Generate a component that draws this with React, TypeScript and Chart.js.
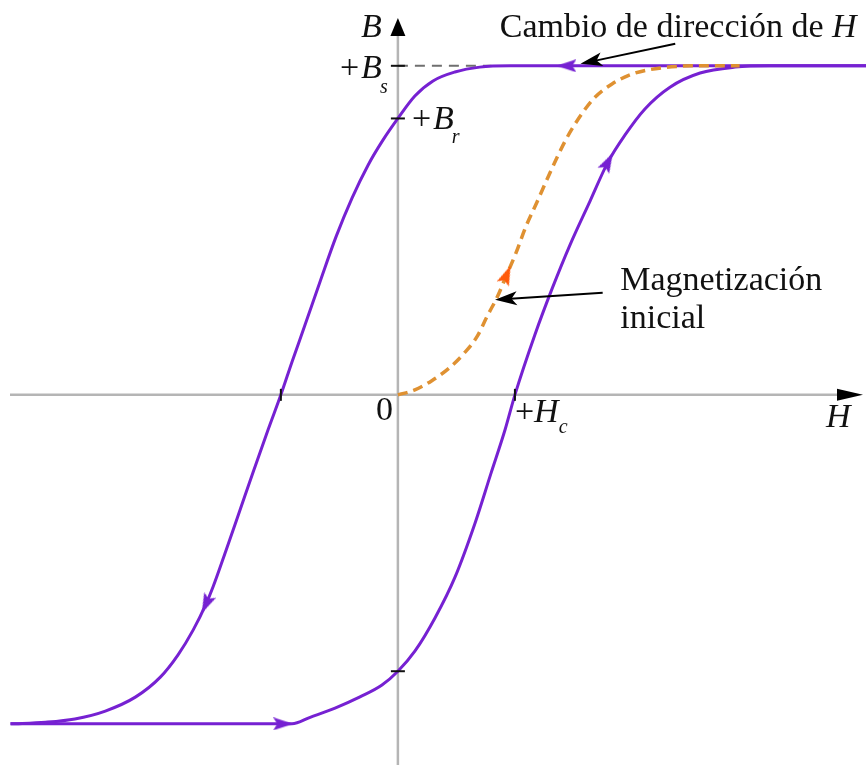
import { useEffect, useRef } from "react";
import { Chart, registerables } from "chart.js";

Chart.register(...registerables);

// Ascending branch (H increasing): lower saturation -> upper saturation
const H_ASC = [-3.31, -0.98, -0.905, -0.75, -0.537, -0.324, -0.136, 0.0, 0.145, 0.317, 0.488, 0.659, 0.796, 0.915, 1.0, 1.17, 1.317, 1.471, 1.642, 1.796, 1.941, 2.111, 2.325, 2.582, 2.881, 3.18, 4.0];
const B_ASC = [-1.0, -1.0, -1.0, -0.98, -0.952, -0.918, -0.882, -0.84, -0.779, -0.678, -0.554, -0.39, -0.238, -0.107, 0.0, 0.182, 0.322, 0.456, 0.589, 0.708, 0.79, 0.869, 0.935, 0.978, 0.996, 1.0, 1.0];
const ARROWS_ASC = [1, 19];

// Descending branch (H decreasing): upper saturation -> lower saturation
const H_DESC = [4.0, 1.44, 0.96, 0.7, 0.487, 0.3, 0.145, 0.0, -0.128, -0.255, -0.392, -0.529, -0.666, -0.794, -0.905, -1.0, -1.11, -1.23, -1.349, -1.468, -1.58, -1.64, -1.75, -1.88, -2.03, -2.24, -2.5, -2.76, -3.01, -3.31];
const B_DESC = [1.0, 1.0, 1.0, 0.996, 0.981, 0.954, 0.908, 0.84, 0.774, 0.698, 0.598, 0.48, 0.343, 0.212, 0.1, 0.0, -0.107, -0.228, -0.35, -0.472, -0.584, -0.636, -0.715, -0.791, -0.858, -0.918, -0.961, -0.985, -0.995, -1.0];
const ARROWS_DESC = [1, 21];

// Initial magnetization curve from the demagnetized state
const H_INIT = [0.0, 0.145, 0.29, 0.44, 0.57, 0.68, 0.76, 0.85, 0.93, 1.01, 1.09, 1.19, 1.3, 1.43, 1.56, 1.68, 1.83, 2.01, 2.26, 2.58, 2.92];
const B_INIT = [0.0, 0.015, 0.043, 0.082, 0.128, 0.179, 0.237, 0.298, 0.365, 0.432, 0.508, 0.587, 0.675, 0.772, 0.848, 0.903, 0.945, 0.976, 0.994, 1.0, 1.0];
const ARROWS_INIT = [8];

// Characteristic values
const BS = 1.0;
const BR = 0.84;
const HC = 1.0;

// Visible window
const H_MIN = -3.4;
const H_MAX = 4.0;
const B_MIN = -1.125;
const B_MAX = 1.2;

const PURPLE = "#7621d2";
const ORANGE = "#df9132";
const ARROW_ORANGE = "#ff5a0a";
const SERIF = '"Liberation Serif", "DejaVu Serif", serif';

function toPoints(hs: number[], bs: number[]) {
  return hs.map((h, i) => ({ x: h, y: bs[i] }));
}

function makeHead(color: string, w: number, h: number) {
  const c = document.createElement("canvas");
  c.width = w;
  c.height = h;
  const g = c.getContext("2d")!;
  g.fillStyle = color;
  g.beginPath();
  g.moveTo(w / 2, 0);
  g.lineTo(w, h);
  g.lineTo(w / 2, h * 0.8);
  g.lineTo(0, h);
  g.closePath();
  g.fill();
  return c;
}

// Rotation (degrees, clockwise) that points an up-facing head along the path
function headRotation(ctx: any) {
  const data = ctx.dataset.data;
  const i = ctx.dataIndex;
  const { x, y } = ctx.chart.scales;
  if (!x || !y) return 0;
  const a = data[Math.max(i - 1, 0)];
  const b = data[Math.min(i + 1, data.length - 1)];
  const dx = x.getPixelForValue(b.x) - x.getPixelForValue(a.x);
  const dy = y.getPixelForValue(b.y) - y.getPixelForValue(a.y);
  return (Math.atan2(dx, -dy) * 180) / Math.PI;
}

function drawArrow(ctx: CanvasRenderingContext2D, x1: number, y1: number, x2: number, y2: number) {
  const ang = Math.atan2(y2 - y1, x2 - x1);
  const len = 22;
  const hw = 7;
  ctx.save();
  ctx.strokeStyle = "#000";
  ctx.fillStyle = "#000";
  ctx.lineWidth = 2;
  ctx.beginPath();
  ctx.moveTo(x1, y1);
  ctx.lineTo(x2 - Math.cos(ang) * len * 0.7, y2 - Math.sin(ang) * len * 0.7);
  ctx.stroke();
  ctx.translate(x2, y2);
  ctx.rotate(ang);
  ctx.beginPath();
  ctx.moveTo(0, 0);
  ctx.lineTo(-len, -hw);
  ctx.lineTo(-len * 0.75, 0);
  ctx.lineTo(-len, hw);
  ctx.closePath();
  ctx.fill();
  ctx.restore();
}

const decorations = {
  id: "hysteresisDecorations",
  beforeDatasetsDraw(chart: any) {
    const { ctx, chartArea, scales } = chart;
    const { x, y } = scales;
    const x0 = x.getPixelForValue(0);
    const y0 = y.getPixelForValue(0);
    ctx.save();
    // axes
    ctx.strokeStyle = "#b5b5b5";
    ctx.lineWidth = 2.5;
    ctx.beginPath();
    ctx.moveTo(chartArea.left + 10, y0);
    ctx.lineTo(chartArea.right - 26, y0);
    ctx.stroke();
    ctx.beginPath();
    ctx.moveTo(x0, chartArea.top + 32);
    ctx.lineTo(x0, chartArea.bottom);
    ctx.stroke();
    // axis arrowheads
    ctx.fillStyle = "#000";
    ctx.beginPath();
    ctx.moveTo(chartArea.right - 3, y0);
    ctx.lineTo(chartArea.right - 29, y0 - 6);
    ctx.lineTo(chartArea.right - 29, y0 + 6);
    ctx.closePath();
    ctx.fill();
    ctx.beginPath();
    ctx.moveTo(x0, chartArea.top + 18);
    ctx.lineTo(x0 - 7.5, chartArea.top + 36);
    ctx.lineTo(x0 + 7.5, chartArea.top + 36);
    ctx.closePath();
    ctx.fill();
    // saturation guide
    const yBs = y.getPixelForValue(BS);
    ctx.strokeStyle = "#6f6f6f";
    ctx.lineWidth = 2;
    ctx.setLineDash([10, 7]);
    ctx.beginPath();
    ctx.moveTo(x0, yBs);
    ctx.lineTo(x.getPixelForValue(0.8), yBs);
    ctx.stroke();
    ctx.restore();
  },
  afterDatasetsDraw(chart: any) {
    const { ctx, chartArea, scales } = chart;
    const { x, y } = scales;
    const x0 = x.getPixelForValue(0);
    const y0 = y.getPixelForValue(0);
    const yBs = y.getPixelForValue(BS);
    const yBr = y.getPixelForValue(BR);
    const yBrN = y.getPixelForValue(-BR);
    const xHc = x.getPixelForValue(HC);
    const xHcN = x.getPixelForValue(-HC);
    ctx.save();
    // tick marks
    ctx.strokeStyle = "#111";
    ctx.lineWidth = 2;
    for (const yy of [yBs, yBr, yBrN]) {
      ctx.beginPath();
      ctx.moveTo(x0 - 7, yy);
      ctx.lineTo(x0 + 7, yy);
      ctx.stroke();
    }
    for (const xx of [xHc, xHcN]) {
      ctx.beginPath();
      ctx.moveTo(xx, y0 - 6);
      ctx.lineTo(xx, y0 + 6);
      ctx.stroke();
    }

    // annotation arrows
    drawArrow(ctx, x.getPixelForValue(2.37), y.getPixelForValue(1.067), x.getPixelForValue(1.56), y.getPixelForValue(1.006));
    drawArrow(ctx, x.getPixelForValue(1.75), y.getPixelForValue(0.31), x.getPixelForValue(0.83), y.getPixelForValue(0.289));

    // labels
    ctx.fillStyle = "#111";
    ctx.textBaseline = "alphabetic";
    const big = `34px ${SERIF}`;
    const bigI = `italic 34px ${SERIF}`;
    const subI = `italic 20px ${SERIF}`;

    ctx.textAlign = "right";
    ctx.font = bigI;
    ctx.fillText("B", x0 - 16, chartArea.top + 37);

    // +Bs
    ctx.textAlign = "left";
    ctx.font = big;
    const plusW = ctx.measureText("+").width;
    ctx.font = bigI;
    const bW = ctx.measureText("B").width;
    let lx = x0 - 16 - bW - plusW - 2;
    ctx.font = big;
    ctx.fillText("+", lx, yBs + 12);
    ctx.font = bigI;
    ctx.fillText("B", lx + plusW + 2, yBs + 12);
    ctx.font = subI;
    ctx.fillText("s", lx + plusW + bW, yBs + 27);

    // +Br
    lx = x0 + 14;
    ctx.font = big;
    ctx.fillText("+", lx, yBr + 11);
    ctx.font = bigI;
    ctx.fillText("B", lx + plusW + 2, yBr + 11);
    ctx.font = subI;
    ctx.fillText("r", lx + plusW + bW, yBr + 25);

    // origin
    ctx.textAlign = "right";
    ctx.font = big;
    ctx.fillText("0", x0 - 5, y0 + 25);

    // +Hc
    ctx.textAlign = "left";
    lx = xHc;
    ctx.font = big;
    ctx.fillText("+", lx, y0 + 27);
    ctx.font = bigI;
    const hW = ctx.measureText("H").width;
    ctx.fillText("H", lx + plusW, y0 + 27);
    ctx.font = subI;
    ctx.fillText("c", lx + plusW + hW, y0 + 38);

    // horizontal axis name
    ctx.font = bigI;
    ctx.fillText("H", chartArea.right - 40, y0 + 32);

    // direction change note
    const cx = x.getPixelForValue(0.87);
    const cy = y.getPixelForValue(1.088);
    ctx.font = big;
    const note = "Cambio de dirección de ";
    ctx.fillText(note, cx, cy);
    const noteW = ctx.measureText(note).width;
    ctx.font = bigI;
    ctx.fillText("H", cx + noteW, cy);

    // initial magnetization note
    const mx = x.getPixelForValue(1.9);
    ctx.font = big;
    ctx.fillText("Magnetización", mx, y.getPixelForValue(0.319));
    ctx.fillText("inicial", mx, y.getPixelForValue(0.204));
    ctx.restore();
  },
};

export default function App() {
  const canvasRef = useRef<HTMLCanvasElement | null>(null);

  useEffect(() => {
    const canvas = canvasRef.current;
    if (!canvas) return;
    const purpleHead = makeHead(PURPLE, 13, 20);
    const orangeHead = makeHead(ARROW_ORANGE, 13, 20);

    const headOpts = (idx: number[], head: HTMLCanvasElement) => ({
      pointRadius: (c: any) => (idx.includes(c.dataIndex) ? 6 : 0),
      pointHoverRadius: 0,
      pointStyle: (c: any) => (idx.includes(c.dataIndex) ? head : "circle"),
      pointRotation: headRotation,
    });

    const chart = new Chart(canvas, {
      type: "scatter",
      data: {
        datasets: [
          {
            label: "Magnetización inicial",
            data: toPoints(H_INIT, B_INIT),
            showLine: true,
            borderColor: ORANGE,
            borderWidth: 3.5,
            borderDash: [10, 6],
            cubicInterpolationMode: "monotone",
            ...headOpts(ARROWS_INIT, orangeHead),
          },
          {
            label: "Rama descendente",
            data: toPoints(H_DESC, B_DESC),
            showLine: true,
            borderColor: PURPLE,
            borderWidth: 3,
            cubicInterpolationMode: "monotone",
            ...headOpts(ARROWS_DESC, purpleHead),
          },
          {
            label: "Rama ascendente",
            data: toPoints(H_ASC, B_ASC),
            showLine: true,
            borderColor: PURPLE,
            borderWidth: 3,
            cubicInterpolationMode: "monotone",
            ...headOpts(ARROWS_ASC, purpleHead),
          },
        ],
      } as any,
      options: {
        animation: false,
        responsive: false,
        devicePixelRatio: 1,
        layout: { padding: 0 },
        plugins: {
          legend: { display: false },
          tooltip: { enabled: false },
        },
        events: [],
        scales: {
          x: { type: "linear", min: H_MIN, max: H_MAX, display: false },
          y: { type: "linear", min: B_MIN, max: B_MAX, display: false },
        },
      } as any,
      plugins: [decorations],
    });
    return () => chart.destroy();
  }, []);

  return (
    <div style={{ position: "fixed", left: 0, top: 0, width: 866, height: 765, background: "#fff" }}>
      <canvas ref={canvasRef} width={866} height={765} style={{ display: "block" }} />
    </div>
  );
}
